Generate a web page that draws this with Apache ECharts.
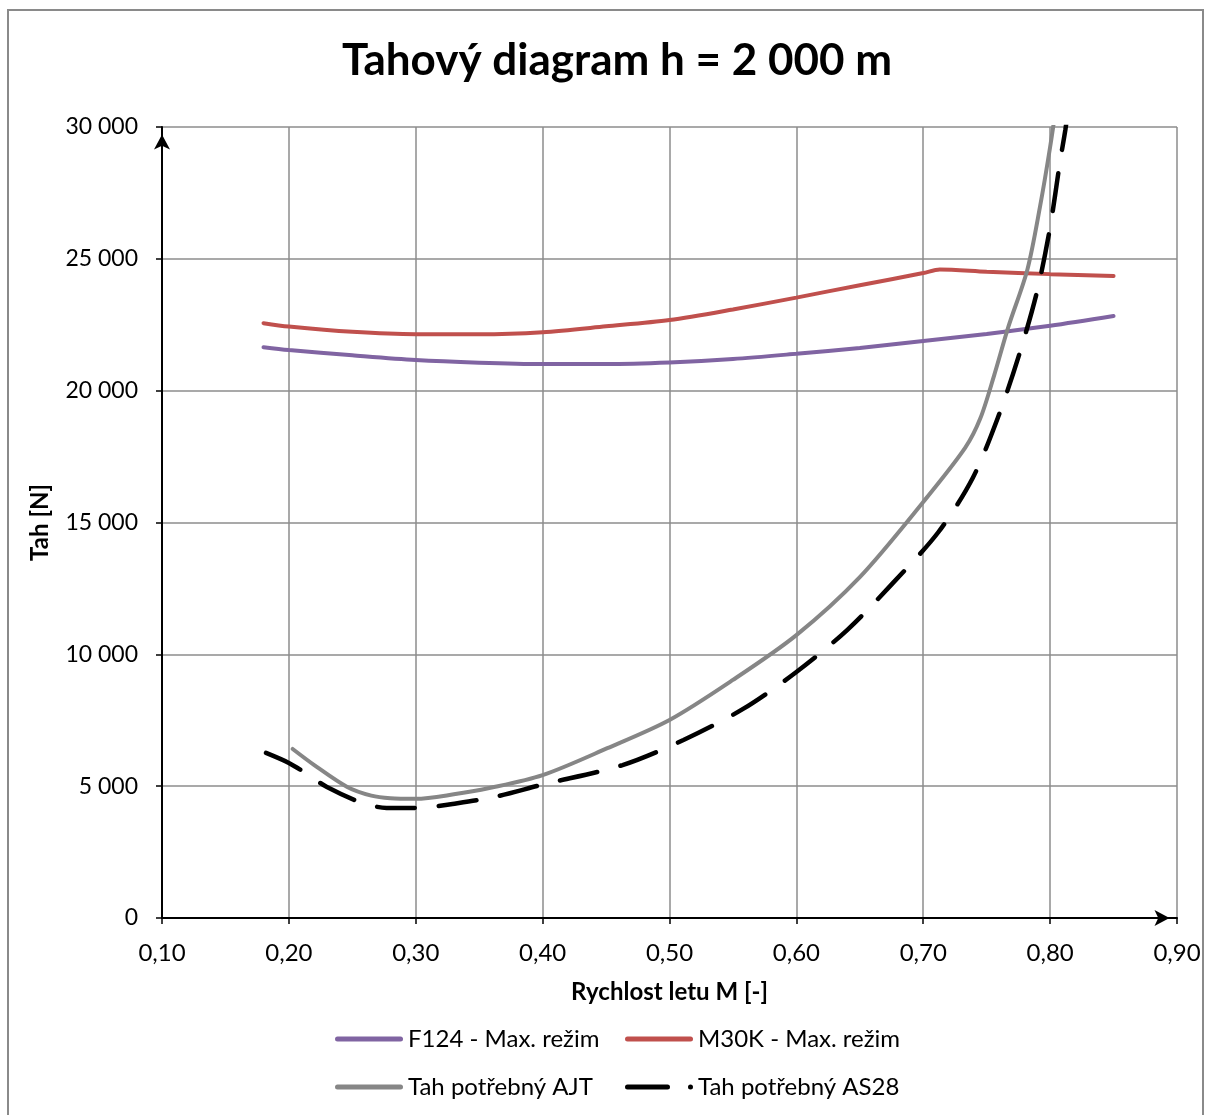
<!DOCTYPE html>
<html>
<head>
<meta charset="utf-8">
<title>Tahový diagram</title>
<script src="https://cdn.jsdelivr.net/npm/echarts@6/dist/echarts.min.js"></script>
<style>
    html, body { margin: 0; padding: 0; background: #fff; }
    #chartWrap { width: 1208px; height: 1115px; }
</style>
</head>
<body>
<div id="chartWrap"></div>
<script>
// hodnoty (Mach, tah v N)
const f124M = [0.18, 0.20, 0.25, 0.30, 0.35, 0.40, 0.45, 0.50, 0.55, 0.60, 0.65, 0.70, 0.75, 0.80, 0.85];
const f124T = [21650, 21540, 21340, 21160, 21060, 21010, 21010, 21070, 21200, 21400, 21620, 21880, 22150, 22460, 22830];

const m30kM = [0.18, 0.20, 0.25, 0.30, 0.35, 0.40, 0.45, 0.50, 0.55, 0.60, 0.65, 0.70, 0.713, 0.75, 0.80, 0.85];
const m30kT = [22560, 22430, 22230, 22140, 22140, 22220, 22440, 22680, 23080, 23530, 24000, 24460, 24600, 24510, 24420, 24350];

const ajtM = [0.203, 0.22, 0.246, 0.265, 0.28, 0.30, 0.33, 0.358, 0.40, 0.451, 0.50, 0.55, 0.60, 0.65, 0.70, 0.733, 0.745, 0.756, 0.767, 0.782, 0.792, 0.80, 0.806];
const ajtT = [6410, 5800, 4970, 4640, 4540, 4520, 4690, 4930, 5420, 6440, 7510, 9030, 10730, 12930, 15780, 17830, 18950, 20600, 22410, 24580, 26970, 29240, 31200];

const as28M = [0.182, 0.20, 0.213, 0.23, 0.258, 0.277, 0.295, 0.311, 0.329, 0.362, 0.40, 0.463, 0.511, 0.558, 0.60, 0.64, 0.676, 0.712, 0.739, 0.759, 0.776, 0.79, 0.80, 0.808, 0.812, 0.817];
const as28T = [6260, 5880, 5500, 4970, 4360, 4175, 4170, 4210, 4320, 4590, 5060, 5800, 6750, 7930, 9330, 10920, 12700, 14640, 16690, 19000, 21430, 23820, 26200, 28750, 29890, 31600];

const seriesNames = ['F124 - Max. režim', 'M30K - Max. režim', 'Tah potřebný AJT', 'Tah potřebný AS28'];
const colors = ['#8064A2', '#C0504D', '#868686', '#000000'];

const fontFamily = 'Lato, "Open Sans", sans-serif';

function pairs(xs, ys) {
    return xs.map(function (x, i) {
        return [x, ys[i]];
    });
}

function fmtThousands(v) {
    return String(v).replace(/\B(?=(\d{3})+(?!\d))/g, ' ');
}

const myChart = echarts.init(document.getElementById('chartWrap'));

function lineSeries(idx, xs, ys, dashed) {
    return {
        name: seriesNames[idx],
        type: 'line',
        data: pairs(xs, ys),
        showSymbol: false,
        smooth: 0.3,
        color: colors[idx],
        lineStyle: {
            color: colors[idx],
            width: dashed ? 4.5 : 4,
            type: dashed ? [38, 24] : 'solid',
            cap: 'round'
        },
        z: 3 + idx
    };
}

function legendAt(idx, left, top, icon) {
    return {
        data: [seriesNames[idx]],
        left: left,
        top: top,
        icon: icon,
        itemWidth: 68,
        itemHeight: 5,
        textStyle: {fontFamily: fontFamily, fontSize: 24, color: '#000'}
    };
}

const iconLine = 'path://M2.5,0 h63 a2.5,2.5 0 0,1 0,5 h-63 a2.5,2.5 0 0,1 0,-5 z';
const iconDashDot = 'path://M2.5,0 h40 a2.5,2.5 0 0,1 0,5 h-40 a2.5,2.5 0 0,1 0,-5 z M65.5,0 a2.5,2.5 0 1,1 0,5 a2.5,2.5 0 1,1 0,-5 z';

myChart.setOption({
    backgroundColor: '#fff',
    animation: false,
    title: {
        text: 'Tahový diagram h = 2 000 m',
        left: 612,
        textAlign: 'center',
        top: 34,
        textStyle: {fontFamily: fontFamily, fontSize: 44, fontWeight: 'bold', color: '#000'}
    },
    graphic: [{
        type: 'rect',
        shape: {x: 8, y: 10, width: 1195, height: 1120},
        style: {fill: 'none', stroke: '#8a8a8a', lineWidth: 2},
        silent: true
    }],
    legend: [
        legendAt(0, 330, 1022, iconLine),
        legendAt(1, 620, 1022, iconLine),
        legendAt(2, 330, 1070, iconLine),
        legendAt(3, 620, 1070, iconDashDot)
    ],
    grid: {left: 162, top: 127, right: 31, bottom: 197},
    xAxis: {
        type: 'value',
        min: 0.1,
        max: 0.9,
        interval: 0.1,
        name: 'Rychlost letu M [-]',
        nameLocation: 'middle',
        nameGap: 62,
        nameTextStyle: {fontFamily: fontFamily, fontSize: 24, fontWeight: 'bold', color: '#000'},
        axisLine: {
            lineStyle: {color: '#000', width: 2},
            symbol: ['none', 'arrow'],
            symbolSize: [12, 15],
            symbolOffset: [0, -7.5]
        },
        axisTick: {show: true, length: 6, lineStyle: {color: '#000', width: 1.5}},
        axisLabel: {
            margin: 23,
            fontFamily: fontFamily,
            fontSize: 24,
            color: '#000',
            formatter: function (v) {
                return v.toFixed(2).replace('.', ',');
            }
        },
        splitLine: {show: true, lineStyle: {color: '#8c8c8c', width: 1.5}}
    },
    yAxis: {
        type: 'value',
        min: 0,
        max: 30000,
        interval: 5000,
        name: 'Tah [N]',
        nameLocation: 'middle',
        nameGap: 110,
        nameTextStyle: {fontFamily: fontFamily, fontSize: 24, fontWeight: 'bold', color: '#000'},
        axisLine: {
            show: true,
            lineStyle: {color: '#000', width: 2},
            symbol: ['none', 'arrow'],
            symbolSize: [12, 15],
            symbolOffset: [0, -7.5]
        },
        axisTick: {show: true, length: 6, lineStyle: {color: '#000', width: 1.5}},
        axisLabel: {
            margin: 24,
            fontFamily: fontFamily,
            fontSize: 23,
            color: '#000',
            formatter: function (v) {
                return fmtThousands(v);
            }
        },
        splitLine: {show: true, lineStyle: {color: '#8c8c8c', width: 1.5}}
    },
    series: [
        lineSeries(0, f124M, f124T, false),
        lineSeries(1, m30kM, m30kT, false),
        lineSeries(2, ajtM, ajtT, false),
        lineSeries(3, as28M, as28T, true)
    ]
});
</script>
</body>
</html>
